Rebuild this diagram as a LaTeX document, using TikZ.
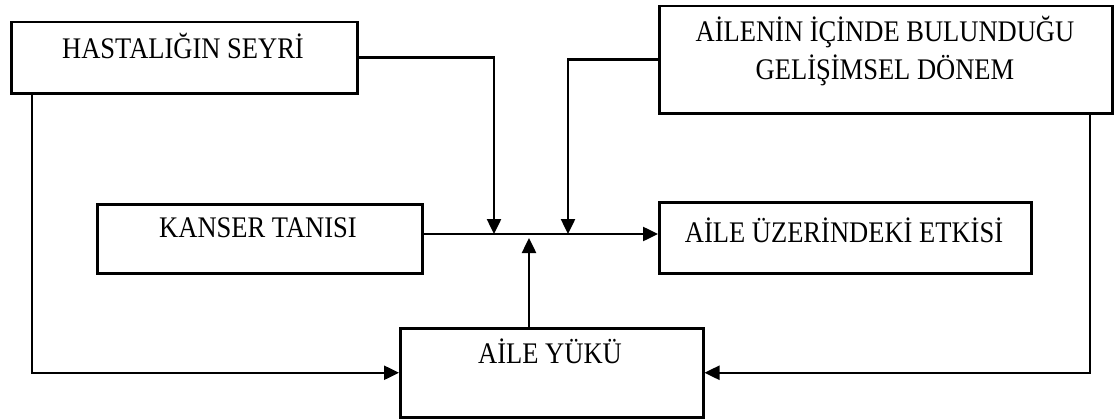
\documentclass[tikz,border=0pt]{standalone}
\usepackage{fontspec}
\setmainfont{Liberation Serif}
\usetikzlibrary{arrows.meta}
\newcommand{\stx}[1]{\scalebox{1.02}[1.15]{#1}}
\begin{document}
\begin{tikzpicture}[x=1pt,y=-1pt,
  box/.style={draw,line width=2.5pt,inner sep=0pt,anchor=north west},
  lbl/.style={anchor=base,inner sep=0pt,font=\fontsize{26}{37}\selectfont,align=center},
  conn/.style={line width=2.5pt},
  arr/.style={conn,-{Triangle[length=15pt,width=14pt]}}]
\useasboundingbox (0,0) rectangle (1114,420);
% boxes
\node[box,minimum width=346pt,minimum height=71pt] (hs) at (10,21) {};
\node[box,minimum width=453pt,minimum height=107pt] (ai) at (658,5) {};
\node[box,minimum width=325pt,minimum height=69pt] (kt) at (96,203) {};
\node[box,minimum width=372pt,minimum height=71pt] (ae) at (658,201) {};
\node[box,minimum width=303pt,minimum height=89pt] (ay) at (399,327) {};
% texts
\node[lbl] (hst) at (183,59) {\stx{HASTALIĞIN SEYRİ}};
\node[lbl] (ait1) at (885,42) {\stx{AİLENİN İÇİNDE BULUNDUĞU}};
\node[lbl] (ait2) at (885,79) {\stx{GELİŞİMSEL DÖNEM}};
\node[lbl] (ktt) at (258,237) {\stx{KANSER TANISI}};
\node[lbl] (aet) at (844,242) {\stx{AİLE ÜZERİNDEKİ ETKİSİ}};
\node[lbl] (ayt) at (550,363) {\stx{AİLE YÜKÜ}};
% junction coordinates
\coordinate (p1) at (494,234);
\coordinate (p2) at (568,234);
\coordinate (p3) at (529,238);
\coordinate (lx) at (32,0);
\coordinate (rx) at (1090,0);
% connectors
\draw[arr] (hs.east) -| (p1);
\draw[arr] (ai.west) -| (p2);
\draw[arr] (kt.east |- p1) -- (ae.west |- p1);
\draw[arr] (ay.north -| p3) -- (p3);
\draw[arr] (hs.south -| lx) |- (ay.west);
\draw[arr] (ai.south -| rx) |- (ay.east);
\end{tikzpicture}
\end{document}
